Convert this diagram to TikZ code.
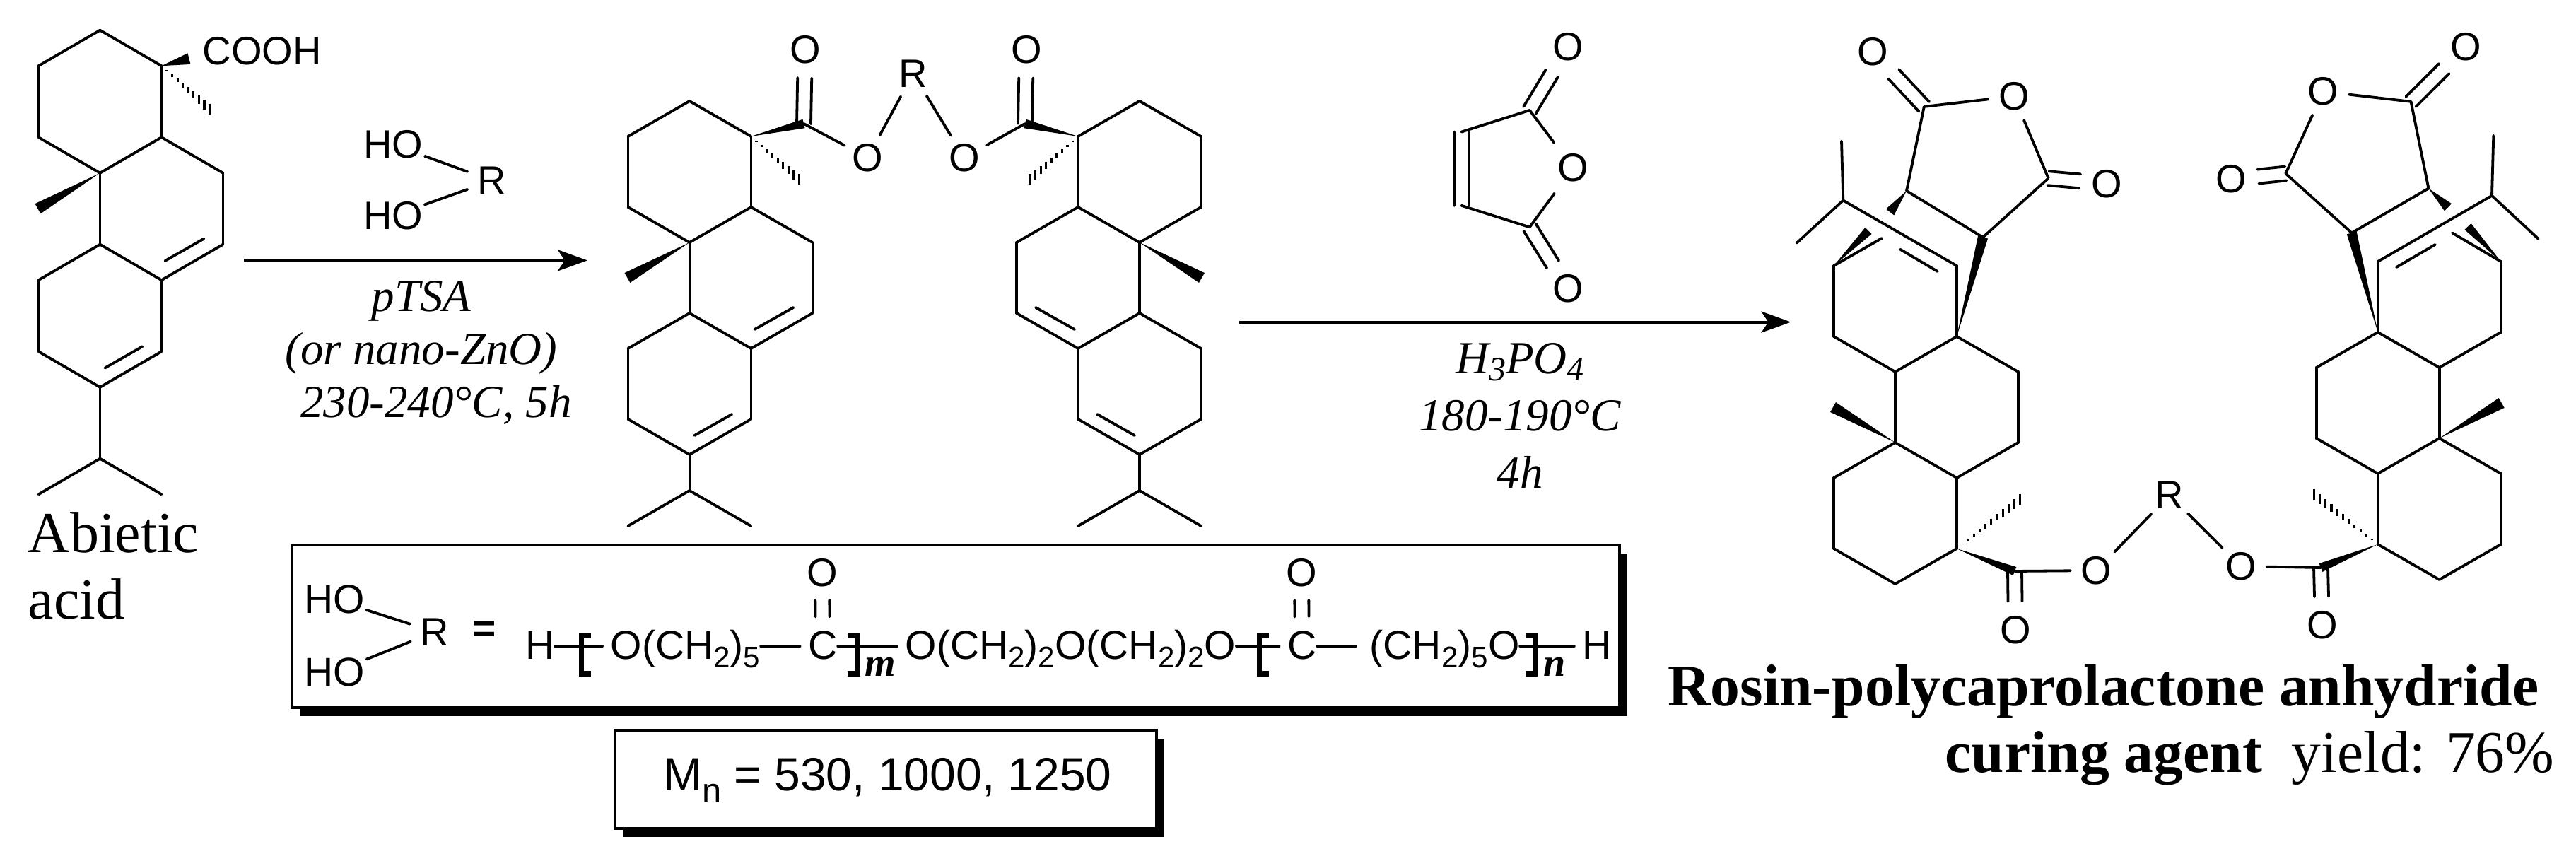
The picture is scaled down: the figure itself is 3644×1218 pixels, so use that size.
\documentclass[tikz,border=0pt]{standalone}
\usepackage{fontspec}
\setmainfont{Liberation Serif}
\setsansfont{Liberation Sans}
\usetikzlibrary{arrows.meta,calc,positioning,shadows}

\tikzset{
  bond/.style={line width=.95pt,line cap=round},
  hashline/.style={line width=.8pt},
  brak/.style={line width=1.83pt},
  rxn/.style={line width=1pt,-{Stealth[length=10.5pt,width=7.5pt,inset=2.5pt]}},
  atom/.style={circle,inner sep=0pt,minimum size=18pt,font=\sffamily\fontsize{14}{16}\selectfont},
  hydroxy/.style={inner sep=.5pt,font=\sffamily\fontsize{14}{16}\selectfont},
  chainbit/.style={anchor=west,inner sep=0pt,text height=10pt,text depth=.8pt,font=\sffamily\fontsize{14.25}{16}\selectfont},
  chainbond/.style={bond,shorten >=2.75pt},
  idx/.style={anchor=base west,inner sep=0pt,font=\bfseries\itshape\fontsize{14}{16}\selectfont},
  panel/.style={draw,line width=1pt,fill=white,inner sep=0pt,general shadow={fill=black,shadow xshift=2.75pt,shadow yshift=-3pt}},
  cond/.style={anchor=north,align=center,inner sep=0pt}
}

\newcommand{\lowidx}[2][-.21em]{\raisebox{#1}{\scalebox{.74}{#2}}}
\newcommand{\wedgebond}[3][2pt]{\fill (#2) -- ($(#3)!#1!90:(#2)$) -- ($(#3)!#1!-90:(#2)$) -- cycle;}
\newcommand{\hashbond}[3][9]{\foreach \i in {1,...,#1}
  \draw[hashline] ($(#2)!\i/#1!(#3)$) ++(0,{\i/#1*7.5}) -- ++(0,{-\i/#1*15});}
\newcommand{\dblbond}[3][shorten >=10pt]{\foreach \s in {1,-1}
  \draw[bond,#1] ($(#2)!\s*2.5pt!90:(#3)$) -- ($(#3)!\s*2.5pt!-90:(#2)$);}

% three rings, open at the far end
\newcommand{\tricycle}[1]{
  \foreach \n/\x/\y in {1/0/0,2/87/50,3/87/150,4/0/200,5/-87/150,6/-87/50,7/174/200,8/174/300,
      9/87/350,10/0/300,11/-87/350,12/-87/450,14/87/450,18/-88/250}
    \coordinate (#1_\n) at (\x,\y);
  \foreach \a/\b in {1/2,2/3,3/4,4/5,5/6,6/1,3/7,7/8,8/9,9/10,10/4,10/11,11/12,9/14}
    \draw[bond] (#1_\a) -- (#1_\b);
  \wedgebond{#1_4}{#1_18}
}
% closes the last ring and adds the isopropyl
\newcommand{\tailring}[2]{
  \coordinate (#1_13) at (0,500);
  \coordinate (#1_15) at (0,{500+#2});
  \coordinate (#1_16) at (-87,{550+#2});
  \coordinate (#1_17) at (87,{550+#2});
  \coordinate (#1_d1) at (147,292);
  \coordinate (#1_d2) at (92,323);
  \coordinate (#1_d3) at (60,443);
  \coordinate (#1_d4) at (7,473);
  \foreach \a/\b in {12/13,13/14,13/15,15/16,15/17,d1/d2,d3/d4}
    \draw[bond] (#1_\a) -- (#1_\b);
}

\begin{document}
\begin{tikzpicture}[x=.25pt,y=-.25pt]
  \useasboundingbox (0,0) rectangle (3644,1218);

  % abietic acid
  \begin{scope}[shift={(141.5,42.7)},yscale=1.01]
    \tricycle{ab}
    \tailring{ab}{100}
    \coordinate (ab_c) at (126,40);
    \coordinate (ab_h) at (155,111);
    \wedgebond{ab_2}{ab_c}
    \hashbond{ab_2}{ab_h}
  \end{scope}
  \node[hydroxy,anchor=west,inner sep=0pt] (cooh) at (286,72.7) {COOH};
  \node[anchor=north west,align=left,inner sep=0pt,font=\fontsize{20.5}{23.5}\selectfont] (abietic) at (39,724) {Abietic\\acid};

  % first step
  \node[hydroxy] (ho_1) at (556,204.6) {HO};
  \node[hydroxy] (ho_2) at (556,305.4) {HO};
  \node[atom] (r_0) at (696,255.5) {R};
  \path[bond] (ho_1) edge (r_0) (ho_2) edge (r_0);
  \coordinate (a_1) at (344.5,368.4);
  \coordinate (a_2) at (831,368.4);
  \draw[rxn] (a_1) -- (a_2);
  \node[cond,font=\itshape\fontsize{16.25}{18.75}\selectfont] (cond_1) at (596,397)
    {pTSA\\(or nano-ZnO)\\\hspace*{10.5pt}230-240°C, 5h};

  % diester
  \begin{scope}[shift={(975.4,143)}]
    \tricycle{ml}
    \tailring{ml}{51}
    \coordinate (ml_h) at (155,111);
    \hashbond{ml_2}{ml_h}
  \end{scope}
  \begin{scope}[shift={(1612,143)},xscale=-1]
    \tricycle{mr}
    \tailring{mr}{51}
    \coordinate (mr_h) at (155,111);
    \hashbond{mr_2}{mr_h}
  \end{scope}
  \coordinate (mc_1) at (1137,175);
  \coordinate (mc_2) at (1450,175);
  \node[atom] (mo_1) at (1139,70.3) {O};
  \node[atom] (mo_2) at (1452,70.3) {O};
  \node[atom] (me_1) at (1227.4,223) {O};
  \node[atom] (me_2) at (1364,223) {O};
  \node[atom] (r_1) at (1291.7,104.2) {R};
  \wedgebond[1.6pt]{ml_2}{mc_1}
  \wedgebond[1.6pt]{mr_2}{mc_2}
  \dblbond{mc_1}{mo_1}
  \dblbond{mc_2}{mo_2}
  \path[bond] (mc_1) edge (me_1) (me_1) edge (r_1) (r_1) edge (me_2) (me_2) edge (mc_2);

  % maleic anhydride
  \coordinate (c_1) at (2163.8,156);
  \coordinate (c_2) at (2163.8,321.4);
  \coordinate (c_3) at (2067.4,186.6);
  \coordinate (c_4) at (2067.4,290.8);
  \node[atom] (an_1) at (2217.8,66.4) {O};
  \node[atom] (an_2) at (2225.3,237.5) {O};
  \node[atom] (an_3) at (2217.8,408.1) {O};
  \path[bond] (c_3) edge (c_1) (c_4) edge (c_2);
  \path[bond,shorten >=2pt] (c_1) edge (an_2) (c_2) edge (an_2);
  \dblbond[shorten >=0pt]{c_3}{c_4}
  \dblbond[shorten >=11pt]{c_1}{an_1}
  \dblbond[shorten >=10pt]{c_2}{an_3}

  % second step
  \coordinate (a_3) at (1752.8,455.6);
  \coordinate (a_4) at (2533.5,455.6);
  \draw[rxn] (a_3) -- (a_4);
  \node[cond,font=\itshape\fontsize{16.25}{20.25}\selectfont] (cond_2) at (2150,485)
    {H\lowidx[-.15em]{3}PO\lowidx[-.15em]{4}\\180-190°C\\4h};

  % product, left half
  \begin{scope}[shift={(2681,826)},yscale=-1]
    \tricycle{tl}
  \end{scope}
  \coordinate (tl_i) at (2607.3,283.5);
  \coordinate (tl_a) at (2605,199.6);
  \coordinate (tl_b) at (2541.6,343.7);
  \coordinate (tl_g) at (2662,337);
  \coordinate (tl_w) at (2643,326.5);
  \coordinate (tl_p) at (2688,352.7);
  \coordinate (tl_q) at (2740.8,384);
  \coordinate (tl_d) at (2805,335.7);
  \coordinate (tl_e) at (2697,270);
  \coordinate (tl_f) at (2673.6,300);
  \coordinate (tl_k) at (2721.8,150.9);
  \coordinate (tl_m) at (2897.6,252.2);
  \node[atom] (to_1) at (2848.8,136.2) {O};
  \node[atom] (to_2) at (2648.8,72.8) {O};
  \node[atom] (to_3) at (2980,259.8) {O};
  \path[bond] (tl_14) edge (tl_i) (tl_i) edge (tl_a) (tl_i) edge (tl_b) (tl_12) edge (tl_g) (tl_p) edge (tl_q)
    (tl_d) edge (tl_e) (tl_e) edge (tl_k) (tl_k) edge (to_1) (to_1) edge (tl_m) (tl_m) edge (tl_d);
  \dblbond[shorten >=11pt]{tl_k}{to_2}
  \dblbond[shorten >=9.5pt]{tl_m}{to_3}
  \wedgebond[1.6pt]{tl_12}{tl_w}
  \wedgebond[1.8pt]{tl_9}{tl_d}
  \wedgebond[1.8pt]{tl_e}{tl_f}

  % product, right half
  \begin{scope}[shift={(3450.7,820)},xscale=-1,yscale=-1]
    \tricycle{tr}
  \end{scope}
  \coordinate (tr_i) at (3525,276.8);
  \coordinate (tr_a) at (3527.3,192);
  \coordinate (tr_b) at (3590.8,338);
  \coordinate (tr_g) at (3469,329.5);
  \coordinate (tr_w) at (3491,320.5);
  \coordinate (tr_p) at (3390,378);
  \coordinate (tr_q) at (3444.8,346);
  \coordinate (tr_d) at (3326.7,329.5);
  \coordinate (tr_e) at (3435.4,266.5);
  \coordinate (tr_f) at (3463,293.3);
  \coordinate (tr_k) at (3410.5,143.8);
  \coordinate (tr_m) at (3233.3,245.5);
  \node[atom] (to_4) at (3286.5,129.5) {O};
  \node[atom] (to_5) at (3488.6,66) {O};
  \node[atom] (to_6) at (3156.7,253.6) {O};
  \path[bond] (tr_14) edge (tr_i) (tr_i) edge (tr_a) (tr_i) edge (tr_b) (tr_12) edge (tr_g) (tr_p) edge (tr_q)
    (tr_d) edge (tr_e) (tr_e) edge (tr_k) (tr_k) edge (to_4) (to_4) edge (tr_m) (tr_m) edge (tr_d);
  \dblbond[shorten >=11pt]{tr_k}{to_5}
  \dblbond[shorten >=9.5pt]{tr_m}{to_6}
  \wedgebond[1.6pt]{tr_12}{tr_w}
  \wedgebond[1.8pt]{tr_9}{tr_d}
  \wedgebond[1.8pt]{tr_e}{tr_f}

  % product, linker
  \coordinate (tc_1) at (2850,808);
  \coordinate (tc_2) at (3283,803);
  \coordinate (tl_h) at (2857.5,706.4);
  \coordinate (tr_h) at (3273.4,699.3);
  \node[atom] (tc_o1) at (2851,890.9) {O};
  \node[atom] (tc_o2) at (3285,883.8) {O};
  \node[atom] (te_1) at (2965.5,807) {O};
  \node[atom] (te_2) at (3169.8,801) {O};
  \node[atom] (r_2) at (3069,700.5) {R};
  \wedgebond[1.6pt]{tl_2}{tc_1}
  \wedgebond[1.6pt]{tr_2}{tc_2}
  \hashbond[11]{tl_2}{tl_h}
  \hashbond[11]{tr_2}{tr_h}
  \dblbond{tc_1}{tc_o1}
  \dblbond{tc_2}{tc_o2}
  \path[bond] (tc_1) edge (te_1) (te_1) edge (r_2) (r_2) edge (te_2) (te_2) edge (tc_2);
  \node[anchor=north east,align=right,inner sep=0pt,font=\fontsize{20.9}{23.5}\selectfont] (title) at (3614,940)
    {\textbf{Rosin-polycaprolactone anhydride}\hspace*{5.5pt}\\\textbf{curing agent}~~yield: 76\%};

  % boxes
  \node[panel,minimum width=469.4pt,minimum height=57.5pt] (chainbox) at (1352,886) {};
  \node[panel,minimum width=191.5pt,minimum height=34.75pt] (mnbox) at (1253,1102.5) {};
  \node[anchor=base west,inner sep=0pt,font=\sffamily\fontsize{16.5}{18}\selectfont] (mnval) at (937.4,1118)
    {M\lowidx[-.27em]{n} = 530, 1000, 1250};

  \node[hydroxy,font=\sffamily\fontsize{14.25}{16}\selectfont] (bo_1) at (473,848.3) {HO};
  \node[hydroxy,font=\sffamily\fontsize{14.25}{16}\selectfont] (bo_2) at (473,950.7) {HO};
  \node[atom] (r_3) at (615,894) {R};
  \path[bond] (bo_1) edge (r_3) (bo_2) edge (r_3);
  \node[inner sep=0pt,font=\sffamily\bfseries\fontsize{14.25}{16}\selectfont] (eq) at (685,893.5) {=};

  \node[chainbit] (h_l) at (742.2,914.3) {H};
  \node[chainbit] (seg_1) at (863,914.3) {O(CH\lowidx{2})\lowidx{5}};
  \node[chainbit] (co_1) at (1142.5,914.3) {C};
  \node[chainbit] (seg_2) at (1280,914.3) {O(CH\lowidx{2})\lowidx{2}O(CH\lowidx{2})\lowidx{2}O};
  \node[chainbit] (co_2) at (1820.5,914.3) {C};
  \node[chainbit] (seg_3) at (1937,914.3) {(CH\lowidx{2})\lowidx{5}O};
  \node[chainbit] (h_r) at (2237.8,914.3) {H};
  \node[atom] (bc_1) at (1163,810) {O};
  \node[atom] (bc_2) at (1841,810) {O};
  \node[idx] (idx_m) at (1223,956.7) {m};
  \node[idx] (idx_n) at (2182.7,956.7) {n};
  \path[chainbond] (h_l) edge (seg_1) (seg_1) edge (co_1) (co_1) edge (seg_2) (seg_2) edge (co_2)
    (seg_3) edge (h_r);
  \path[bond,shorten >=4.75pt] (co_2) edge (seg_3);
  \dblbond[shorten <=10.5pt,shorten >=9.75pt]{co_1}{bc_1}
  \dblbond[shorten <=10.5pt,shorten >=9.75pt]{co_2}{bc_2}
  \foreach \x in {836,1795}
    \draw[brak] (\x,899.7) -- ++(-13.3,0) -- ++(0,53.3) -- ++(13.3,0);
  \foreach \x in {1199.3,2158}
    \draw[brak] (\x,899.7) -- ++(13.7,0) -- ++(0,53.3) -- ++(-13.7,0);
\end{tikzpicture}
\end{document}
